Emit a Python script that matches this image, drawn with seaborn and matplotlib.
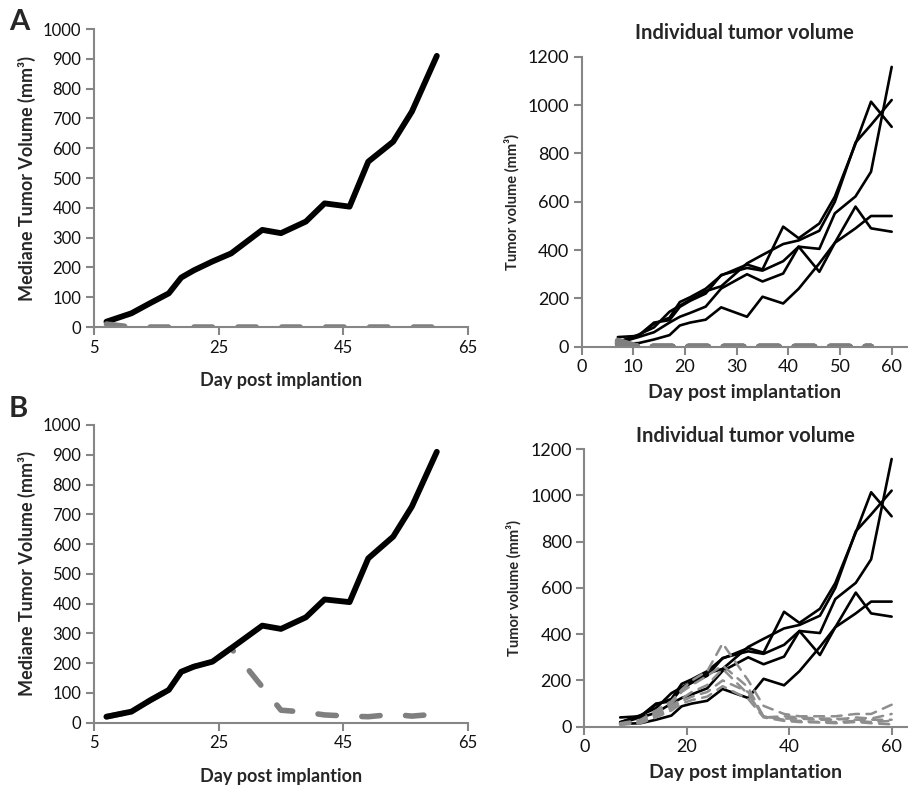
import numpy as np
import pandas as pd
import seaborn as sns
import matplotlib.pyplot as plt

# measurement days
days = [7, 11, 14, 17, 19, 21, 24, 27, 32, 35, 39, 42, 46, 49, 53, 56, 60]

# median tumor volume (mm3)
median_ctrl_a = [18, 46, 80, 113, 166, 190, 220, 247, 326, 315, 354, 415, 404, 555, 622, 723, 910]
median_trt_a = [10, 0, 0, 0, 0, 0, 0, 0, 0, 0, 0, 0, 0, 0, 0, 0, 0]
median_ctrl_b = [20, 37, 75, 110, 171, 188, 205, 250, 326, 315, 354, 414, 405, 552, 625, 726, 910]
median_trt_b = [20, 37, 75, 110, 171, 188, 205, 250, 120, 42, 35, 26, 22, 20, 28, 22, 29]

# individual control mice
ctrl_mice = {
    "c1": [20, 46, 100, 110, 165, 190, 220, 297, 326, 315, 354, 414, 405, 552, 622, 724, 1158],
    "c2": [40, 45, 95, 120, 185, 205, 240, 295, 340, 320, 497, 449, 510, 621, 840, 1014, 910],
    "c3": [18, 50, 80, 145, 170, 195, 230, 250, 345, 380, 425, 440, 480, 600, 845, 918, 1021],
    "c4": [12, 15, 30, 48, 88, 100, 112, 163, 124, 207, 179, 240, 345, 430, 490, 541, 541],
    "c5": [15, 40, 60, 100, 124, 140, 166, 241, 300, 270, 303, 414, 310, 430, 580, 490, 476],
}

# individual treated mice, panel A (days up to 56)
trt_days_a = [7, 11, 14, 17, 19, 21, 24, 27, 32, 35, 39, 42, 46, 49, 53, 56]
trt_mice_a = {
    "t1": [20, 0, 0, 0, 0, 0, 0, 0, 0, 0, 0, 0, 0, 0, 0, 0],
    "t2": [15, 0, 0, 0, 0, 0, 0, 0, 0, 0, 0, 0, 0, 0, 0, 0],
    "t3": [10, 0, 0, 0, 0, 0, 0, 0, 0, 0, 0, 0, 0, 0, 0, 0],
    "t4": [25, 0, 0, 0, 0, 0, 0, 0, 0, 0, 0, 0, 0, 0, 0, 0],
    "t5": [12, 0, 0, 0, 0, 0, 0, 0, 0, 0, 0, 0, 0, 0, 0, 0],
}

# individual treated mice, panel B
trt_mice_b = {
    "t1": [15, 30, 70, 110, 160, 200, 240, 360, 200, 90, 55, 45, 45, 45, 55, 55, 95],
    "t2": [12, 25, 60, 100, 150, 180, 220, 265, 170, 42, 35, 35, 30, 30, 40, 35, 55],
    "t3": [10, 20, 50, 90, 120, 150, 180, 250, 140, 45, 30, 25, 20, 20, 25, 20, 25],
    "t4": [8, 15, 40, 70, 100, 115, 130, 175, 120, 40, 25, 20, 18, 15, 20, 15, 10],
    "t5": [10, 18, 45, 80, 110, 130, 150, 200, 150, 40, 45, 40, 35, 35, 30, 30, 30],
}


def long_df(day_list, mice):
    rows = []
    for name, vals in mice.items():
        for d, v in zip(day_list, vals):
            rows.append({"mouse": name, "day": d, "vol": v})
    return pd.DataFrame(rows)


sns.set_theme(style="white")
plt.rcParams["font.family"] = ["Lato", "DejaVu Sans"]

AX_GRAY = "#868686"
TRT_GRAY = "#7f7f7f"

fig = plt.figure(figsize=(9.08, 7.85), dpi=100)


def style_axes(ax, tick_size):
    sns.despine(ax=ax)
    for s in ["left", "bottom"]:
        ax.spines[s].set_color(AX_GRAY)
        ax.spines[s].set_linewidth(1.5)
    ax.tick_params(axis="both", direction="out", length=6, width=1.5,
                   color=AX_GRAY, labelsize=tick_size, labelcolor="#111111",
                   left=True, bottom=True, pad=3)


def median_panel(rect, ctrl, trt, trt_under):
    ax = fig.add_axes(rect)
    d_ctrl = pd.DataFrame({"day": days, "vol": ctrl})
    d_trt = pd.DataFrame({"day": days, "vol": trt})
    trt_kw = dict(color=TRT_GRAY, linewidth=4.0, linestyle=(0, (3.3, 4.6)),
                  dash_capstyle="round", ax=ax)
    if trt_under:
        sns.lineplot(data=d_trt, x="day", y="vol", **trt_kw)
    sns.lineplot(data=d_ctrl, x="day", y="vol", color="black", linewidth=4.2,
                 solid_capstyle="round", ax=ax)
    if not trt_under:
        sns.lineplot(data=d_trt, x="day", y="vol", **trt_kw)
    ax.set_xlim(5, 65)
    ax.set_ylim(0, 1000)
    ax.set_xticks([5, 25, 45, 65])
    ax.set_yticks(range(0, 1001, 100))
    style_axes(ax, 12)
    ax.set_xlabel("Day post implantion", fontsize=13, fontweight="bold", labelpad=12)
    ax.set_ylabel("Mediane Tumor Volume (mm³)", fontsize=13, fontweight="bold", labelpad=5)
    return ax


def individual_panel(rect, trt_day_list, trt_mice, trt_lw, trt_dash, xticks, title_pad):
    ax = fig.add_axes(rect)
    d_ctrl = long_df(days, ctrl_mice)
    d_trt = long_df(trt_day_list, trt_mice)
    sns.lineplot(data=d_ctrl, x="day", y="vol", units="mouse", estimator=None,
                 color="black", linewidth=1.9, ax=ax)
    sns.lineplot(data=d_trt, x="day", y="vol", units="mouse", estimator=None,
                 color=TRT_GRAY if trt_lw > 2 else "#8e8e8e", linewidth=trt_lw,
                 linestyle=(0, trt_dash), dash_capstyle="round", ax=ax)
    ax.set_xlim(0, 63)
    ax.set_ylim(0, 1200)
    ax.set_xticks(xticks)
    ax.set_yticks(range(0, 1201, 200))
    style_axes(ax, 13)
    ax.set_title("Individual tumor volume", fontsize=14.5, fontweight="bold", pad=title_pad)
    ax.set_xlabel("Day post implantation", fontsize=14, fontweight="bold", labelpad=6)
    ax.set_ylabel("Tumor volume (mm³)", fontsize=10.5, fontweight="bold", labelpad=6)
    return ax


median_panel([0.1035, 0.5834, 0.4119, 0.3796], median_ctrl_a, median_trt_a, False)
median_panel([0.1035, 0.0794, 0.4119, 0.3792], median_ctrl_b, median_trt_b, True)

individual_panel([0.6406, 0.5583, 0.3585, 0.3694], trt_days_a, trt_mice_a,
                 4.4, (3.2, 2.6), [0, 10, 20, 30, 40, 50, 60], 13)
individual_panel([0.6435, 0.0743, 0.3554, 0.3534], days, trt_mice_b,
                 1.8, (4.0, 3.0), [0, 20, 40, 60], 5)

fig.text(0.010, 0.988, "A", fontsize=21, fontweight="bold", va="top")
fig.text(0.010, 0.496, "B", fontsize=21, fontweight="bold", va="top")

fig.savefig("out.png", dpi=100)
